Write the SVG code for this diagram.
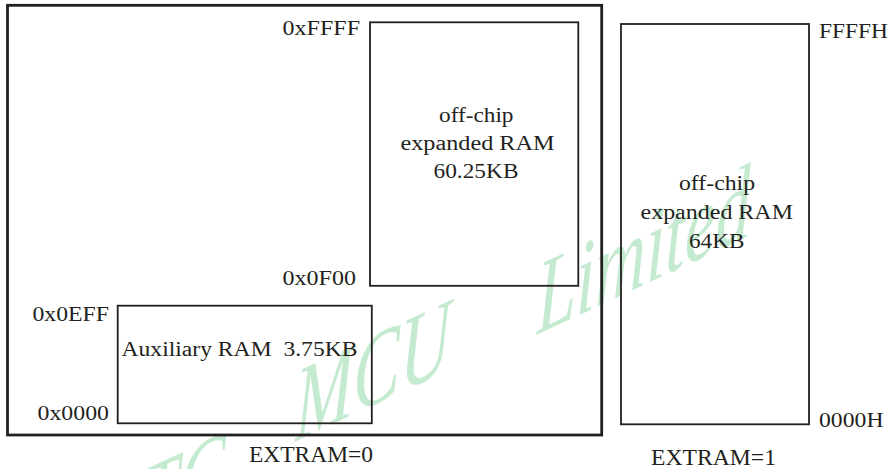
<svg xmlns="http://www.w3.org/2000/svg" width="891" height="469" viewBox="0 0 891 469">
  <style>
    .box { fill: none; stroke: #231f20; stroke-width: 1.8; }
    .outer { fill: none; stroke: #231f20; stroke-width: 2.8; }
    .t { font-family: "Liberation Serif", "Times New Roman", serif; font-size: 20px; fill: #231f20; }
    .big { font-size: 24px; }
    .wm { font-family: "Liberation Serif", "Times New Roman", serif; font-style: italic; font-size: 70px; fill: #c4ead0; }
  </style>
  <rect width="891" height="469" fill="#ffffff"/>

  <g id="watermark" transform="skewY(-25) scale(1,1.5)">
    <text class="wm"><tspan x="105" y="404">STC</tspan><tspan x="295" y="386">MCU</tspan><tspan x="537" y="390">Limited</tspan></text>
  </g>

  <g id="extram0-space">
    <rect class="outer" x="7.5" y="5.3" width="594.2" height="429.7"/>
    <text class="t big" x="249" y="462.3" textLength="124" lengthAdjust="spacingAndGlyphs">EXTRAM=0</text>
  </g>

  <g id="offchip-ram-60k">
    <rect class="box" x="370" y="22.3" width="208.3" height="263.5"/>
    <text class="t" x="439" y="121.7" textLength="74.5" lengthAdjust="spacingAndGlyphs">off-chip</text>
    <text class="t" x="400.5" y="150" textLength="154" lengthAdjust="spacingAndGlyphs">expanded RAM</text>
    <text class="t" x="433.5" y="178.3" textLength="85" lengthAdjust="spacingAndGlyphs">60.25KB</text>
    <text class="t" x="282.5" y="35" textLength="77.5" lengthAdjust="spacingAndGlyphs">0xFFFF</text>
    <text class="t" x="282.5" y="285" textLength="73.5" lengthAdjust="spacingAndGlyphs">0x0F00</text>
  </g>

  <g id="aux-ram">
    <rect class="box" x="117.7" y="305.7" width="254.1" height="117.6"/>
    <text class="t" x="121.5" y="356.3" textLength="236" lengthAdjust="spacingAndGlyphs" xml:space="preserve">Auxiliary RAM  3.75KB</text>
    <text class="t" x="32.5" y="320.7" textLength="76.5" lengthAdjust="spacingAndGlyphs">0x0EFF</text>
    <text class="t" x="37.5" y="420" textLength="71.5" lengthAdjust="spacingAndGlyphs">0x0000</text>
  </g>

  <g id="offchip-ram-64k">
    <rect class="box" x="621" y="24" width="188" height="400.3"/>
    <text class="t" x="679" y="190" textLength="76" lengthAdjust="spacingAndGlyphs">off-chip</text>
    <text class="t" x="640.5" y="219.3" textLength="152.5" lengthAdjust="spacingAndGlyphs">expanded RAM</text>
    <text class="t" x="689" y="248.3" textLength="55.5" lengthAdjust="spacingAndGlyphs">64KB</text>
    <text class="t" x="819" y="38" textLength="69" lengthAdjust="spacingAndGlyphs">FFFFH</text>
    <text class="t" x="819" y="426.7" textLength="64.5" lengthAdjust="spacingAndGlyphs">0000H</text>
    <text class="t big" x="651" y="465" textLength="125" lengthAdjust="spacingAndGlyphs">EXTRAM=1</text>
  </g>

  <g id="connectors"/>
</svg>
